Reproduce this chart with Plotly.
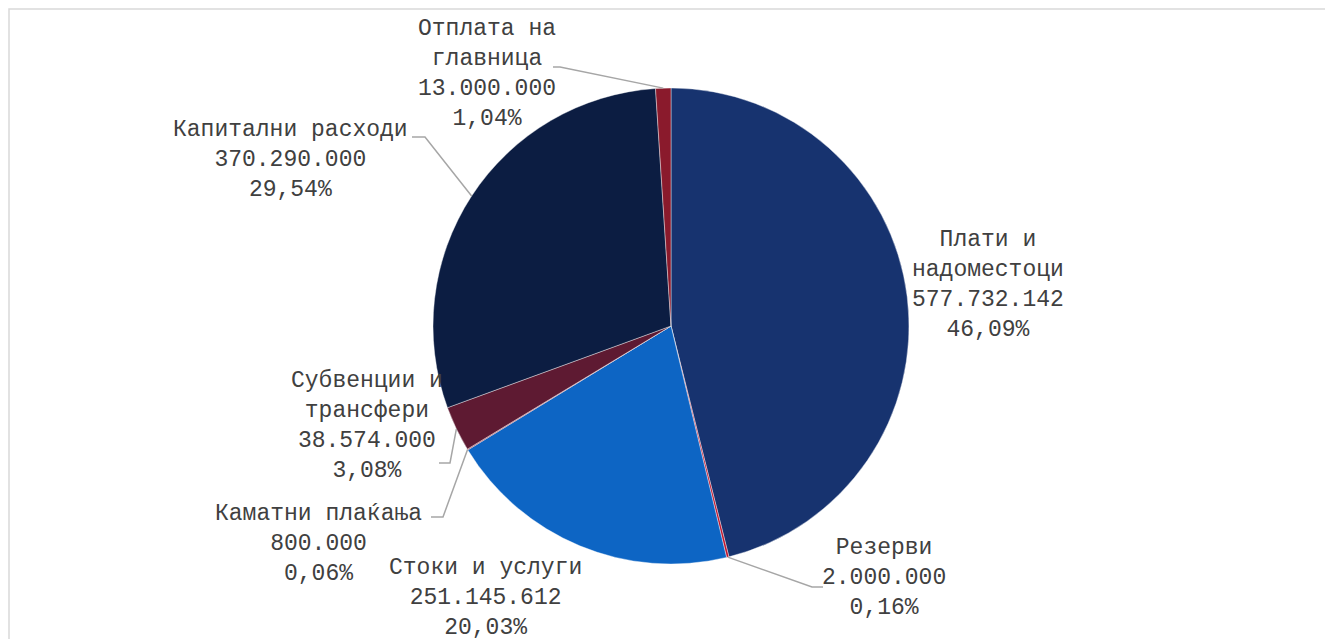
import math
import plotly.graph_objects as go

# ---- data ----
categories = ["Плати и надоместоци", "Резерви", "Стоки и услуги", "Каматни плаќања",
              "Субвенции и трансфери", "Капитални расходи", "Отплата на главница"]
label_lines = ["Плати и<br>надоместоци", "Резерви", "Стоки и услуги", "Каматни плаќања",
               "Субвенции и<br>трансфери", "Капитални расходи", "Отплата на<br>главница"]
values = [577732142, 2000000, 251145612, 800000, 38574000, 370290000, 13000000]
colors = ["#17336f", "#c0142c", "#0d65c4", "#9a2a3a", "#5e1a32", "#0c1d42", "#8a1a2c"]

W, H = 1333, 639
OFF = 8  # page offset of the plot div
CX, CY, R = 671 - OFF, 326 - OFF, 238  # pie centre / radius in pixels

total = sum(values)

def fmt_num(v):
    return f"{v:,}".replace(",", ".")

def fmt_pct(v):
    return f"{100 * v / total:.2f}".replace(".", ",") + "%"

def px(x):
    return x / W

def py(y):
    return 1 - y / H

fig = go.Figure(go.Pie(
    labels=categories, values=values, sort=False, direction="clockwise", rotation=0,
    marker=dict(colors=colors, line=dict(color="white", width=0.4)),
    textinfo="none", hoverinfo="skip", showlegend=False,
    domain=dict(x=[px(CX - R), px(CX + R)], y=[py(CY + R), py(CY - R)]),
))

# label placement (page pixel centres) and leader-line anchors (start, elbow) or None
label_pos = [(988, 285), (884, 578), (485, 598), (318, 544), (367, 426), (290, 160), (487, 74)]
leaders = [None, ((823, 587), (812, 587)), None, ((431, 517), (443, 517)),
           ((439, 463), (450, 463)), ((412, 137), (425, 137)), ((553, 67), (560, 67))]

annotations = []
shapes = []
cum = 0
for i, v in enumerate(values):
    mid = (cum + v / 2) / total
    cum += v
    ang = 2 * math.pi * mid
    tipx = CX + R * math.sin(ang)
    tipy = CY - R * math.cos(ang)
    x, y = label_pos[i]
    x -= OFF
    y -= OFF
    annotations.append(dict(
        x=px(x), y=py(y), xref="paper", yref="paper", xanchor="center", yanchor="middle",
        text=f"{label_lines[i]}<br>{fmt_num(v)}<br>{fmt_pct(v)}", showarrow=False,
        align="center", font=dict(family="Liberation Mono, Courier New, monospace",
                                  size=23, color="#404040")))
    if leaders[i]:
        (sx, sy), (ex, ey) = leaders[i]
        sx -= OFF; sy -= OFF; ex -= OFF; ey -= OFF
        shapes.append(dict(type="path", xref="paper", yref="paper",
                           path=f"M {px(sx)} {py(sy)} L {px(ex)} {py(ey)} L {px(tipx)} {py(tipy)}",
                           line=dict(color="#a6a6a6", width=1.5)))

shapes.append(dict(type="rect", xref="paper", yref="paper", x0=px(1), x1=px(1323),
                   y0=py(660), y1=py(1), line=dict(color="#d9d9d9", width=1.5)))

fig.update_layout(width=W, height=H, margin=dict(l=0, r=0, t=0, b=0),
                  paper_bgcolor="white", plot_bgcolor="white",
                  annotations=annotations, shapes=shapes)

fig.write_html("out.html")
